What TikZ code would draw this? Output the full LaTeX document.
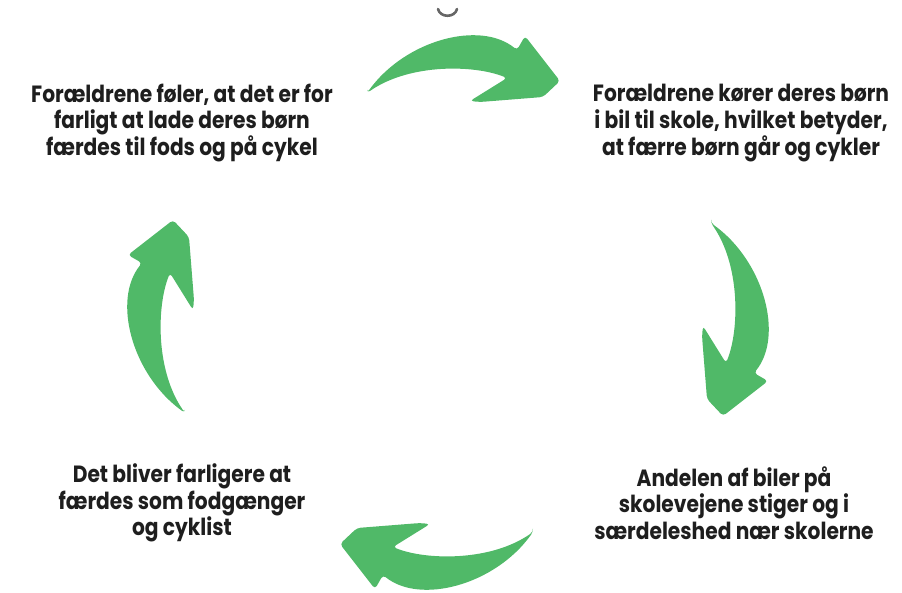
\documentclass[tikz,border=0pt]{standalone}
\usepackage{fontspec}
\setmainfont{Poppins}[FakeStretch=0.86]
\definecolor{cycleGreen}{RGB}{80,185,104}
\definecolor{cycleText}{RGB}{30,30,30}

\begin{document}
\begin{tikzpicture}
[x=1pt,y=-1pt,
  textDecorate/.style={align=center,inner sep=0pt,text=cycleText,%
    font=\fontsize{23.5}{26.7}\selectfont\bfseries},%
  arrowDecorate/.style={fill=cycleGreen,rounded corners=3.5pt}]
\useasboundingbox (0,0) rectangle (902,592);
%% cut-off title at the top edge
\draw[black!60,line width=2.6pt,line cap=round] (438,9) .. controls (440,18) and (455,18) .. (457,9);
%% text blocks
\foreach \nodename/\x/\y/\txt in {%
  parentsfear/182/123/{Forældrene føler, at det er for\\farligt at lade deres børn\\færdes til fods og på cykel},%
  parentsdrive/741/123/{Forældrene kører deres børn\\i bil til skole, hvilket betyder,\\at færre børn går og cykler},%
  morecars/734/503/{Andelen af biler på\\skolevejene stiger og i\\særdeleshed nær skolerne},%
  moredanger/182/503/{Det bliver farligere at\\færdes som fodgænger\\og cyklist}}
{
  \node (\nodename) at (\x,\y) [textDecorate] {\txt};
}
%% curved arrows (one shape, turned a quarter each time)
\foreach \arrowname/\x/\y/\angle in {top/460/65/0, right/739/316/-90, bottom/440/560/180, left/157/320/90}
{
  \fill[arrowDecorate,shift={(\x,\y)},rotate=\angle]
    (-93,28) .. controls (-55,-25) and (20,-45) .. (57,-15)
    -- (65,-29) -- (100,16) -- (83,32) -- (20,37) -- (10,36) -- (47,13)
    .. controls (15,0) and (-50,-2) .. (-93,28) -- cycle;
}
\end{tikzpicture}
\end{document}
